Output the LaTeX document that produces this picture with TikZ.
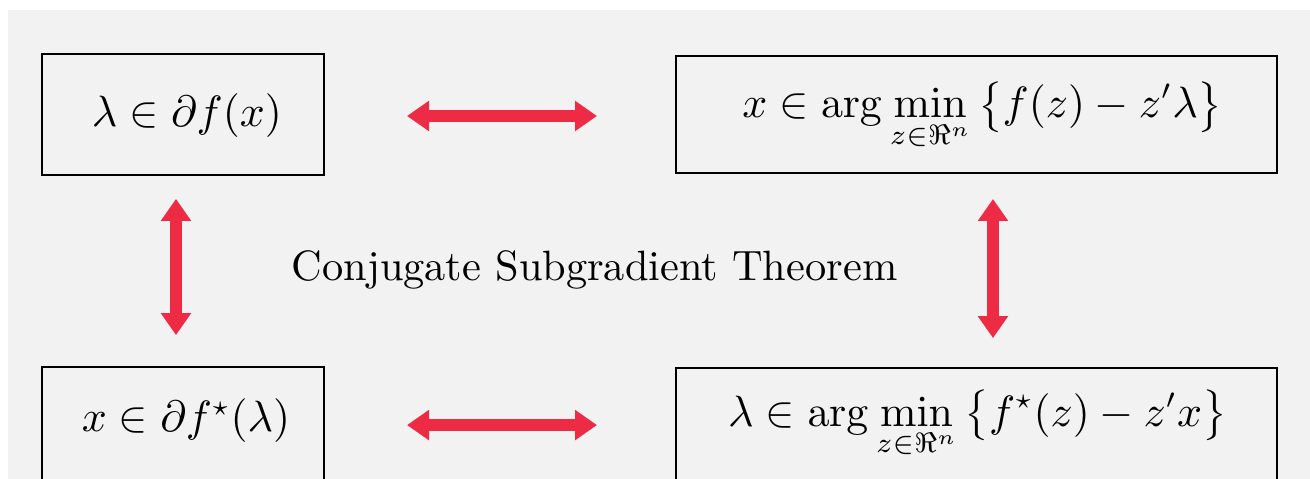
\documentclass[tikz,border=0pt]{standalone}
\usepackage{amsmath,amssymb}
\usetikzlibrary{arrows.meta,calc}
\definecolor{bggray}{RGB}{242,242,242}
\definecolor{arrowred}{RGB}{238,43,69}
\tikzset{
  mathbox/.style={draw=black, line width=0.6pt, inner sep=0pt, outer sep=0pt,
    font=\fontsize{10.6}{13}\selectfont, anchor=base},
  bigarrow/.style={draw=arrowred, line width=3pt,
    {Triangle[width=7.25pt,length=5.5pt]}-{Triangle[width=7.25pt,length=5.5pt]}},
  label text/.style={font=\fontsize{10.6}{13}\selectfont, inner sep=0pt, anchor=base}
}
\begin{document}
\begin{tikzpicture}[x=0.25pt,y=-0.25pt]
\useasboundingbox (0,0) rectangle (1310,479);
\fill[bggray] (8,10) rectangle (1310,479);
\node[mathbox, minimum width=70.5pt, text height=18.1pt, text depth=12.1pt] (tl) at (183,126.5) {$\kern2pt\lambda \in \partial f(x)$};
\node[mathbox, minimum width=150.25pt, text height=15.5pt, text depth=13.75pt] (tr) at (976.5,118) {$\displaystyle \kern3pt x \in \arg\min_{z\in\Re^n} \big\{ f(z) - z'\lambda \big\}$};
\node[mathbox, minimum width=70.5pt, text height=16.1pt, text depth=12.9pt] (bl) at (183,431.5) {$\kern1.5pt x \in \partial f^{\star}(\lambda)$};
\node[mathbox, minimum width=150.25pt, text height=14.6pt, text depth=13.9pt] (br) at (976.5,426.5) {$\displaystyle \kern0.5pt\lambda \in \arg\min_{z\in\Re^n} \big\{ f^{\star}(z) - z'x \big\}$};
\node[label text] (thm) at (594.5,281) {Conjugate Subgradient Theorem};
\draw[bigarrow, shorten <=20.75pt, shorten >=19.75pt] ($(tl.east)+(0,1.5)$) -- ($(tr.west)+(0,1.5)$);
\draw[bigarrow, shorten <=20.75pt, shorten >=19.75pt] (bl.east) -- (br.west);
\draw[bigarrow, shorten <=6pt, shorten >=8pt] ($(tl.south)+(-7,0)$) -- ($(bl.north)+(-7,0)$);
\draw[bigarrow, shorten <=6.5pt, shorten >=7.5pt] ($(tr.south)+(16.5,0)$) -- ($(br.north)+(16.5,0)$);
\end{tikzpicture}
\end{document}
